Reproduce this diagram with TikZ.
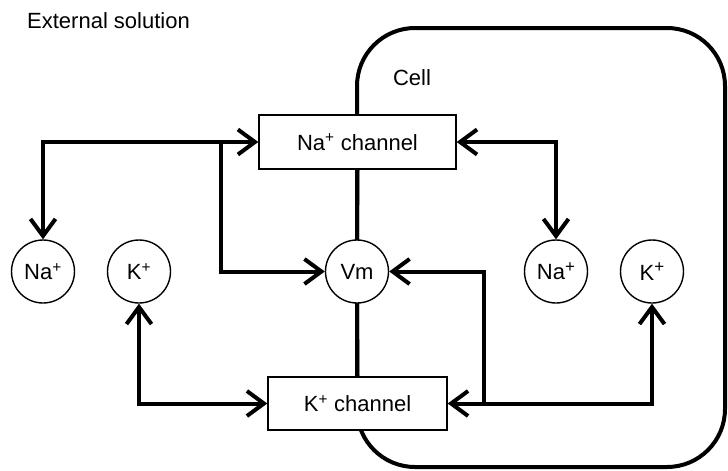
\documentclass[tikz,border=0pt]{standalone}
\usepackage{fontspec}
\setmainfont{Liberation Sans}
\usetikzlibrary{arrows.meta}
\newcommand{\bigplus}{\raisebox{0.62ex}{\fontsize{17}{17}\selectfont +}}
\tikzset{
  chanbox/.style={draw, line width=1.4pt, fill=white, inner sep=0pt, minimum height=54pt, font=\fontsize{22}{26}\selectfont},
  ion/.style={draw, circle, line width=1.4pt, fill=white, inner sep=0pt, minimum size=63pt, font=\fontsize{22}{26}\selectfont},
  conn/.style={line width=4pt},
  tip/.style={arrows={-Straight Barb[length=17pt,width=25pt]}},
  tips/.style={arrows={Straight Barb[length=17pt,width=25pt]-Straight Barb[length=17pt,width=25pt]}},
  celledge/.style={line width=4pt, rounded corners=58pt},
  lbl/.style={font=\fontsize{22}{26}\selectfont, inner sep=0pt}
}
\begin{document}
\begin{tikzpicture}[x=1pt,y=-1pt]
\useasboundingbox (0,0) rectangle (728,471);
% cell membrane
\draw[celledge] (357,28) rectangle (725,467);
\node[lbl, anchor=base west] (ext) at (27,28) {External solution};
\node[lbl, anchor=base] (cell) at (412,85) {Cell};
% channels
\node[chanbox, minimum width=197pt] (na) at (357.5,142) {Na\textsuperscript{+} channel};
\node[chanbox, minimum width=179pt, minimum height=53pt] (k) at (357.5,403.5) {K\textsuperscript{+} channel};
% ions
\node[ion] (naL) at (43,271.5) {Na\textsuperscript{+}};
\node[ion] (kL) at (139,271.5) {K\textsuperscript{+}};
\node[ion] (vm) at (357,271.5) {Vm};
\node[ion] (naR) at (556,271.5) {Na\bigplus};
\node[ion] (kR) at (652,271.5) {K\bigplus};
% junctions
\coordinate (j1) at (221,142);
\coordinate (j2) at (484,403.5);
% connectors
\draw[conn] (vm.north) -- (na.south);
\draw[conn] (vm.south) -- (k.north);
\draw[conn, tips] (naL.north) |- (na.west);
\draw[conn, tip] (j1) |- (vm.west);
\draw[conn, tips] (na.east) -| (naR.north);
\draw[conn, tips] (kL.south) |- (k.west);
\draw[conn, tips] (k.east) -| (kR.south);
\draw[conn, tip] (j2) |- (vm.east);
\end{tikzpicture}
\end{document}
